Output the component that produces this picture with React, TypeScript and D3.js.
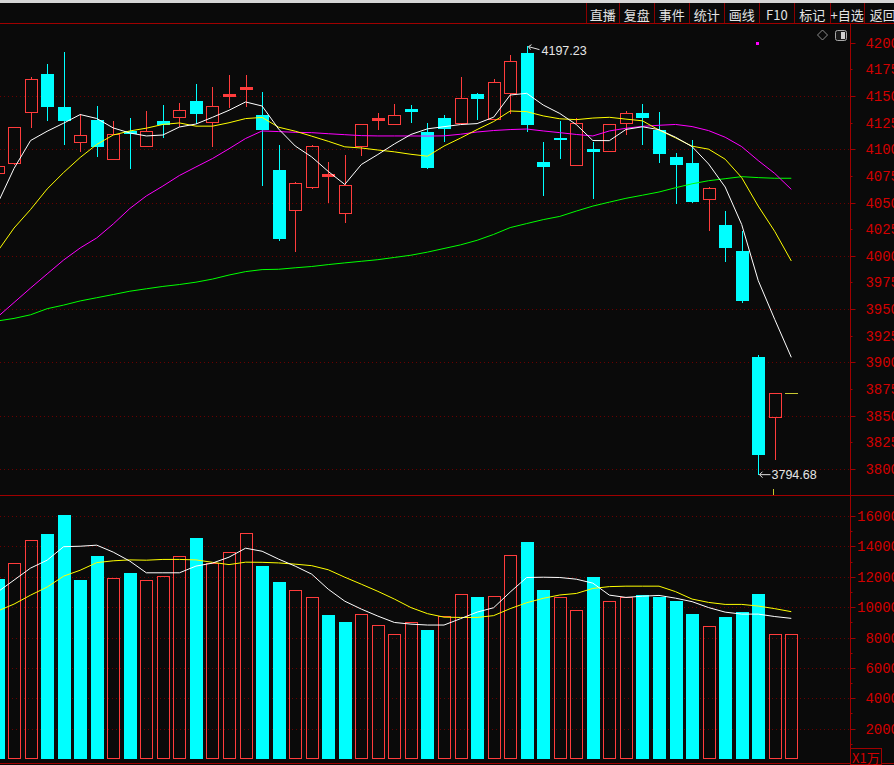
import React from 'react';
import * as d3 from 'd3';

// ---------- data ----------
const opens = [4078, 4086.8, 4134.7, 4170.9, 4139.7, 4106.6, 4127.5, 4090.6, 4117.2, 4103.4, 4126.5, 4130, 4145.3, 4125.3, 4150.3, 4156.3, 4132.2, 4080.6, 4043.3, 4064.9, 4075.2, 4040.5, 4103.4, 4127.5, 4124, 4137.8, 4116.2, 4129.3, 4124.4, 4151.9, 4128.7, 4152.5, 4190.6, 4088.1, 4110.6, 4085.5, 4100, 4098.7, 4124.4, 4134, 4118.1, 4092.8, 4087.1, 4053.1, 4029, 4004.6, 3905.1, 3849.1, 3871];
const highs = [4086, 4120.6, 4167.8, 4180, 4191.3, 4132.8, 4140.6, 4126.5, 4129.3, 4135.9, 4141.5, 4143.4, 4161.2, 4158.4, 4169.7, 4169.7, 4153.7, 4104, 4069.6, 4104.3, 4088.1, 4094.4, 4123.4, 4134, 4142.5, 4141.5, 4124.4, 4131.9, 4167.8, 4153.1, 4165.9, 4188.7, 4197.23, 4106.8, 4126.5, 4129.1, 4107.1, 4123.4, 4135.9, 4142.5, 4135, 4096.5, 4108.7, 4064.6, 4042.1, 4023.3, 3906.7, 3871, 3871];
const lows = [4075, 4085, 4120.2, 4126.8, 4104.3, 4097.7, 4093, 4090.6, 4081.2, 4103.4, 4110.9, 4120.9, 4124, 4102.4, 4138.4, 4139.4, 4065.8, 4014.2, 4003.9, 4063, 4049.9, 4031.1, 4094, 4118.1, 4123.1, 4124.7, 4081.2, 4107.1, 4122.5, 4127.2, 4128.1, 4132.8, 4116.5, 4056.4, 4091.2, 4085, 4053.4, 4098.7, 4113.7, 4104, 4087.4, 4048.9, 4049.9, 4023.6, 3994.5, 3956, 3794.68, 3808.5, 3871];
const closes = [4084, 4120.6, 4165.7, 4140, 4126.8, 4113.1, 4102.4, 4114.1, 4114.1, 4116.9, 4122.8, 4136.6, 4133.4, 4140.3, 4151.9, 4158.2, 4118.1, 4015.8, 4068.4, 4102.8, 4076.8, 4066.2, 4123.4, 4129.3, 4131.9, 4135.3, 4082.7, 4118.7, 4147.8, 4147.5, 4162.8, 4182.8, 4122.8, 4083.7, 4108.7, 4124.4, 4097.4, 4123.4, 4133.8, 4129.6, 4095.9, 4085.5, 4050.8, 4063.4, 4007.7, 3957.9, 3813.4, 3871, 3871];

const ma5 = [4048.9, 4082, 4108.2, 4116.9, 4124.5, 4132.6, 4128.9, 4120, 4115.3, 4112.5, 4113.4, 4120.9, 4123.7, 4130, 4136.6, 4144.4, 4140.6, 4119, 4103.1, 4092.8, 4079.2, 4067, 4085.7, 4095.1, 4105, 4113.9, 4119.2, 4121.2, 4123.2, 4124.1, 4130.1, 4150.9, 4152.5, 4141.5, 4133.6, 4123.2, 4108.2, 4108.1, 4118.6, 4121.1, 4118.4, 4111.3, 4102.5, 4086.2, 4064.6, 4029.4, 3976.8, 3940.3, 3904.8];
const ma10 = [4004.1, 4026.1, 4043.5, 4062.7, 4078.2, 4092.3, 4104.5, 4113.4, 4117.2, 4119.8, 4123.3, 4124.7, 4121.7, 4121.7, 4124.9, 4128.8, 4129.9, 4120.7, 4117, 4112.3, 4107.5, 4102.3, 4101.2, 4099.3, 4097.6, 4095.3, 4093.5, 4103, 4110.5, 4118.5, 4126, 4135.9, 4135.3, 4131.3, 4128.6, 4127.8, 4129.3, 4130, 4128.3, 4126.7, 4118, 4110.7, 4102.9, 4100.1, 4090.7, 4073.4, 4046.7, 4022.9, 3995.2];
const ma20 = [3942.6, 3956.2, 3969.8, 3983, 3996.1, 4007.4, 4016.8, 4029.9, 4044.4, 4056.2, 4065.5, 4075.4, 4083.4, 4091.3, 4100.5, 4110.1, 4117.2, 4116.6, 4115.9, 4115.6, 4114.6, 4113.7, 4112.8, 4112.5, 4112.5, 4112.5, 4112.4, 4112.6, 4114.1, 4116.2, 4117.6, 4118.5, 4119, 4117.2, 4115.6, 4113.9, 4112.5, 4117.2, 4119.7, 4121.5, 4122.5, 4123.3, 4121.3, 4117.5, 4111.3, 4102.5, 4089.4, 4077.3, 4062.4];
const ma60 = [3938.9, 3941.3, 3944.7, 3950.4, 3953.8, 3957.7, 3960.7, 3963.7, 3966.8, 3969.1, 3971.3, 3973.1, 3975.3, 3978.2, 3982, 3985.2, 3987.1, 3987.4, 3988.8, 3990, 3991.8, 3993.4, 3994.9, 3996.4, 3998.5, 4000.6, 4003.5, 4006.9, 4010.3, 4014.6, 4020.1, 4026.5, 4030.3, 4034, 4037, 4042, 4046.7, 4050.4, 4054, 4056.9, 4059.9, 4063.9, 4067.6, 4070.5, 4072.4, 4074.3, 4073.4, 4072.8, 4072.8];

const volumes = [11840, 12880, 14450, 14800, 16050, 11780, 13350, 11890, 12240, 11760, 12020, 13340, 14540, 12900, 13600, 14850, 12700, 11650, 11100, 10640, 9470, 9010, 9520, 8800, 8200, 8990, 8490, 9390, 10840, 10660, 10700, 13400, 14280, 11120, 10640, 9780, 11970, 10375, 10640, 10770, 10660, 10400, 9540, 8730, 9340, 9690, 10860, 8200, 8200];
const volUp = [0, 1, 1, 0, 0, 0, 0, 1, 0, 1, 1, 1, 0, 1, 1, 1, 0, 0, 1, 1, 0, 0, 1, 1, 1, 1, 0, 1, 1, 0, 1, 1, 0, 0, 1, 1, 0, 1, 1, 0, 0, 0, 0, 1, 0, 0, 0, 1, 1];
const volMa5 = [10990, 11780, 12570, 13090, 13980, 14010, 14080, 13620, 13030, 12260, 12260, 12260, 12700, 12900, 13290, 13880, 13680, 13160, 12700, 12170, 11180, 10390, 9870, 9410, 8990, 8880, 8820, 8820, 9240, 9670, 9960, 10990, 11950, 11970, 11950, 11840, 11580, 10790, 10640, 10720, 10770, 10590, 10360, 9970, 9670, 9540, 9540, 9380, 9260];
const volMa10 = [9740, 10200, 10790, 11320, 12040, 12430, 12930, 13050, 13110, 13090, 13140, 13140, 13110, 12950, 12800, 12960, 12950, 12910, 12830, 12730, 12460, 11970, 11510, 11040, 10530, 9970, 9570, 9340, 9320, 9320, 9440, 9900, 10290, 10580, 10800, 10900, 11230, 11350, 11380, 11380, 11380, 11020, 10530, 10310, 10180, 10180, 10070, 9900, 9700];

const priceTicks = [4200, 4175, 4150, 4125, 4100, 4075, 4050, 4025, 4000, 3975, 3950, 3925, 3900, 3875, 3850, 3825, 3800];
const priceGrid = [4150, 4100, 4050, 4000, 3950, 3900, 3850, 3800];
const volTicks = [16000, 14000, 12000, 10000, 8000, 6000, 4000, 2000];
const volMinor = [15000, 13000, 11000, 9000, 7000, 5000, 3000, 1000];
const toolbarLabels = ['直播', '复盘', '事件', '统计', '画线', 'F10', '标记', '+自选', '返回'];
const maxLabel = '4197.23';
const minLabel = '3794.68';
const unitLabel = 'X1万';

// ---------- style ----------
const W = 894, H = 765;
const BG = '#0a0a0a';
const UP = '#ff3c3c';
const DOWN = '#00ffff';
const FLAT = '#c8c832';
const AXIS = '#a00000';
const LABEL = '#d20000';
const GRID = '#6a0000';
const AXIS_X = 850.5;
const LABEL_END = 899;
const toolbarEdges = [586, 619.3, 654, 689.3, 724, 759.3, 794.3, 830, 864.3, 901];

export default function App() {
  const N = closes.length;
  const x = d3.scaleLinear().domain([0, N - 1]).range([-2.5, 791.3]);
  const yP = d3.scaleLinear().domain([3800, 4200]).range([469, 42.7]);
  const yV = d3.scaleLinear().domain([0, 16000]).range([759, 516]);
  const cxOf = (i: number) => Math.round(x(i)) + 0.5;

  const pLine = d3.line<number>().x((_, i) => x(i)).y((d) => yP(d));
  const vLine = d3.line<number>().x((_, i) => x(i)).y((d) => yV(d));

  const candles = closes.map((c, i) => {
    const o = opens[i], h = highs[i], l = lows[i];
    const cx = cxOf(i);
    if (o === c && h === l) {
      const yy = Math.round(yP(c)) + 0.5;
      return <line key={i} x1={cx - 6.5} x2={cx + 6.5} y1={yy} y2={yy} stroke={FLAT} strokeWidth={1} />;
    }
    const top = Math.round(yP(Math.max(o, c)));
    const bot = Math.round(yP(Math.min(o, c)));
    const yh = Math.round(yP(h));
    const yl = Math.round(yP(l));
    if (c >= o) {
      const hgt = Math.max(bot - top, 1);
      return (
        <g key={i}>
          {yh < top && <line x1={cx} x2={cx} y1={yh} y2={top} stroke={UP} />}
          {yl > top + hgt && <line x1={cx} x2={cx} y1={top + hgt} y2={yl} stroke={UP} />}
          <rect x={cx - 6} y={top + 0.5} width={12} height={hgt} fill={hgt <= 2 ? UP : 'none'} stroke={UP} strokeWidth={1} />
        </g>
      );
    }
    return (
      <g key={i}>
        <line x1={cx} x2={cx} y1={yh} y2={yl} stroke={DOWN} />
        <rect x={cx - 6.5} y={top} width={13} height={Math.max(bot - top, 1)} fill={DOWN} />
      </g>
    );
  });

  const vBase = Math.round(yV(0));
  const volBars = volumes.map((v, i) => {
    const cx = cxOf(i);
    const t = Math.round(yV(v));
    if (volUp[i]) {
      return <rect key={i} x={cx - 6} y={t + 0.5} width={12} height={vBase - t - 1} fill="none" stroke={UP} strokeWidth={1} />;
    }
    return <rect key={i} x={cx - 6.5} y={t} width={13} height={vBase - t} fill={DOWN} />;
  });

  const maxI = highs.indexOf(d3.max(highs) as number);
  const minI = lows.indexOf(d3.min(lows) as number);
  const maxX = cxOf(maxI), maxY = yP(highs[maxI]);
  const minX = cxOf(minI), minY = yP(lows[minI]);

  const monoFont = '"Liberation Mono", "DejaVu Sans Mono", monospace';
  const sansFont = '"Liberation Sans", Arial, sans-serif';
  const cjkFont = '"Noto Sans CJK SC", "Noto Sans", sans-serif';

  return (
    <div style={{ position: 'fixed', left: 0, top: 0, width: W, height: H, background: BG }}>
      <svg width={W} height={H} style={{ display: 'block' }}>
        <defs>
          <clipPath id="pclip"><rect x={0} y={25} width={AXIS_X} height={470} /></clipPath>
          <clipPath id="vclip"><rect x={0} y={496} width={AXIS_X} height={267} /></clipPath>
        </defs>
        <rect x={0} y={0} width={W} height={H} fill={BG} />

        {/* toolbar */}
        <rect x={0} y={0} width={W} height={3} fill="#d6d6d6" />
        {toolbarEdges.slice(0, -1).map((e, k) => (
          <line key={'sep' + k} x1={Math.round(e) + 0.5} x2={Math.round(e) + 0.5} y1={3} y2={23} stroke="#8a0000" />
        ))}
        {toolbarLabels.map((t, k) => (
          <text key={'tb' + k} x={(toolbarEdges[k] + toolbarEdges[k + 1]) / 2} y={14} fill="#e4e4e4"
            fontSize={13} fontFamily={cjkFont} textAnchor="middle" dominantBaseline="central">{t}</text>
        ))}
        <line x1={0} x2={W} y1={23.5} y2={23.5} stroke={AXIS} />

        {/* grid lines */}
        {priceGrid.map((p) => (
          <line key={'pg' + p} x1={0} x2={AXIS_X - 1} y1={Math.round(yP(p)) + 0.5} y2={Math.round(yP(p)) + 0.5}
            stroke={GRID} strokeDasharray="1,3" />
        ))}
        {volTicks.map((v) => (
          <line key={'vg' + v} x1={0} x2={AXIS_X - 1} y1={Math.round(yV(v)) + 0.5} y2={Math.round(yV(v)) + 0.5}
            stroke={GRID} strokeDasharray="1,3" />
        ))}

        {/* price pane */}
        <g clipPath="url(#pclip)">
          <g shapeRendering="crispEdges">{candles}</g>
          <path d={pLine(ma60) || ''} fill="none" stroke="#00ff00" strokeWidth={1} />
          <path d={pLine(ma20) || ''} fill="none" stroke="#ff00ff" strokeWidth={1} />
          <path d={pLine(ma10) || ''} fill="none" stroke="#ffff00" strokeWidth={1} />
          <path d={pLine(ma5) || ''} fill="none" stroke="#ffffff" strokeWidth={1} />
        </g>

        {/* max / min annotations */}
        <g stroke="#e0e0e0" strokeWidth={1} fill="none">
          <path d={`M${maxX + 1},${maxY + 1} L${maxX + 12},${maxY + 4} M${maxX + 1},${maxY + 1} l3,-2 M${maxX + 1},${maxY + 1} l2,3`} />
          <path d={`M${minX + 1},${minY} L${minX + 12},${minY} M${minX + 1},${minY} l3,-3 M${minX + 1},${minY} l3,3`} />
        </g>
        <text x={maxX + 14} y={maxY + 5} fill="#e6e6e6" fontSize={12.5} fontFamily={sansFont} dominantBaseline="central">{maxLabel}</text>
        <text x={minX + 13} y={minY + 0.5} fill="#e6e6e6" fontSize={12.5} fontFamily={sansFont} dominantBaseline="central">{minLabel}</text>

        {/* volume pane */}
        <g clipPath="url(#vclip)">
          <g shapeRendering="crispEdges">{volBars}</g>
          <path d={vLine(volMa10) || ''} fill="none" stroke="#ffff00" strokeWidth={1} />
          <path d={vLine(volMa5) || ''} fill="none" stroke="#ffffff" strokeWidth={1} />
        </g>

        {/* separators */}
        <line x1={0} x2={W} y1={495.5} y2={495.5} stroke={AXIS} />
        <line x1={0} x2={W} y1={763.5} y2={763.5} stroke={AXIS} />
        <line x1={AXIS_X} x2={AXIS_X} y1={24} y2={H} stroke={AXIS} />

        {/* price axis */}
        {priceTicks.map((p) => {
          const yy = Math.round(yP(p)) + 0.5;
          const major = p % 50 === 0;
          return (
            <g key={'pt' + p}>
              <line x1={AXIS_X} x2={AXIS_X + (major ? 5 : 2)} y1={yy} y2={yy} stroke={AXIS} />
              <text x={LABEL_END} y={yy} fill={LABEL} fontSize={14} fontFamily={monoFont} textAnchor="end" dominantBaseline="central">{p}</text>
            </g>
          );
        })}
        {/* volume axis */}
        {volTicks.map((v) => {
          const yy = Math.round(yV(v)) + 0.5;
          return (
            <g key={'vt' + v}>
              <line x1={AXIS_X} x2={AXIS_X + 5} y1={yy} y2={yy} stroke={AXIS} />
              <text x={LABEL_END} y={yy} fill={LABEL} fontSize={14} fontFamily={monoFont} textAnchor="end" dominantBaseline="central">{v}</text>
            </g>
          );
        })}
        {volMinor.map((v) => {
          const yy = Math.round(yV(v)) + 0.5;
          return <line key={'vm' + v} x1={AXIS_X} x2={AXIS_X + 2} y1={yy} y2={yy} stroke={AXIS} />;
        })}
        <rect x={850.5} y={748.5} width={31} height={16} fill={BG} stroke={AXIS} />
        <text x={852} y={757} fill={LABEL} fontSize={13} fontFamily={cjkFont} dominantBaseline="central">{unitLabel}</text>

        {/* small icons */}
        <path d="M822.5,30 L827.5,35 L822.5,40 L817.5,35 Z" fill="none" stroke="#8c8c8c" />
        <rect x={835.5} y={30.5} width={11} height={10} rx={2} fill="#1a1a1a" stroke="#a8a8a8" />
        <rect x={841} y={32} width={4} height={7} fill="#d0d0d0" />
        <rect x={756} y={42} width={3} height={3} fill="#ff00ff" />
        <line x1={773.5} x2={773.5} y1={489} y2={495} stroke={FLAT} />
      </svg>
    </div>
  );
}
